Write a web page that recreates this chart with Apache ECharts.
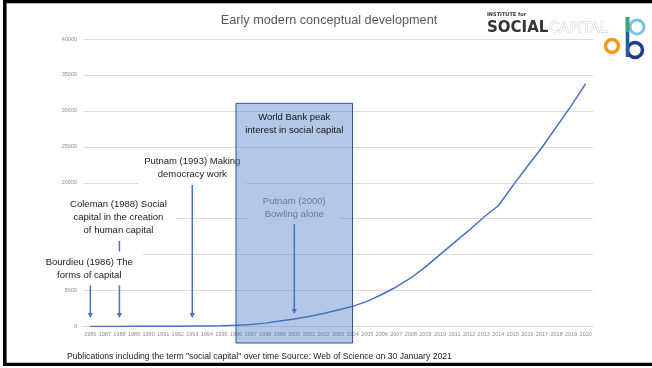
<!DOCTYPE html>
<html><head><meta charset="utf-8">
<script src="https://cdn.jsdelivr.net/npm/echarts@6/dist/echarts.min.js"></script>
<style>html,body{margin:0;padding:0;background:#fff}#c{width:652px;height:368px}</style>
</head><body><div id="c"></div>
<script>
const years = ['1986','1987','1988','1989','1990','1991','1992','1993','1994','1995','1996','1997','1998','1999','2000','2001','2002','2003','2004','2005','2006','2007','2008','2009','2010','2011','2012','2013','2014','2015','2016','2017','2018','2019','2020'];
const publications = [10,12,15,18,22,30,40,55,70,100,160,280,470,750,1050,1400,1800,2300,2800,3500,4450,5500,6750,8300,10000,11700,13400,15200,16800,19600,22300,24900,27800,30700,33800];
const titleText = 'Early modern conceptual development';
const captionText = 'Publications including the term "social capital" over time Source: Web of Science on 30 January 2021';
const notes = {
  bourdieu: 'Bourdieu (1986) The\nforms of capital',
  coleman: 'Coleman (1988) Social\ncapital in the creation\nof human capital',
  putnam93: 'Putnam (1993) Making\ndemocracy work',
  worldBank: 'World Bank peak\ninterest in social capital',
  putnam00: 'Putnam (2000)\nBowling alone'
};

const chart = echarts.init(document.getElementById('c'), null, {renderer: 'canvas'});
chart.setOption({
  animation: false,
  backgroundColor: '#fff',
  grid: {left: 83, right: 59, top: 39, bottom: 41.5},
  xAxis: {
    type: 'category', data: years, boundaryGap: true,
    axisLine: {lineStyle: {color: '#dcdcdc', width: 1}},
    axisTick: {show: false},
    axisLabel: {interval: 0, fontSize: 5.5, color: '#8c8c8c', margin: 5, fontFamily: 'Liberation Sans'}
  },
  yAxis: {
    type: 'value', min: 0, max: 40000, interval: 5000,
    axisLine: {show: false}, axisTick: {show: false},
    axisLabel: {fontSize: 5.5, color: '#8c8c8c', margin: 6, fontFamily: 'Liberation Sans', formatter: v => String(v)},
    splitLine: {lineStyle: {color: '#dcdcdc', width: 1}}
  },
  series: [{type: 'line', data: publications, symbol: 'none', lineStyle: {color: '#4472C4', width: 1.5}, z: 3}]
});

const P = (yr, v) => chart.convertToPixel({gridIndex: 0}, [yr, v]);
const FONT = 'Liberation Sans';
const g = [];

function arrow(yr, topV, tipV, z) {
  const x = P(yr, 0)[0];
  const yTop = P(yr, topV)[1];
  const yTip = P(yr, tipV)[1];
  g.push({type: 'line', z: z, shape: {x1: x, y1: yTop, x2: x, y2: yTip - 4}, style: {stroke: '#4472C4', lineWidth: 1.5}});
  g.push({type: 'polygon', z: z, shape: {points: [[x - 2.6, yTip - 5], [x + 2.6, yTip - 5], [x, yTip]]}, style: {fill: '#4472C4'}});
}
function note(x, y, text, color, z, bg, pad) {
  g.push({type: 'text', z: z, x: x, y: y, style: {
    text: text, fill: color, font: '9.5px ' + FONT, align: 'center', verticalAlign: 'middle',
    lineHeight: 13, backgroundColor: bg || null, padding: pad || 0
  }});
}

// arrows (under the white label boxes)
arrow('1986', 5900, 1200, 10);
arrow('1988', 12000, 1200, 10);
arrow('1993', 19800, 1200, 10);
arrow('2000', 14300, 1750, 10);

// labels with white backgrounds
const x86 = P('1986', 0)[0], x88 = P('1988', 0)[0], x93 = P('1993', 0)[0], x00 = P('2000', 0)[0];
note(x86 + 1, 268.5, notes.bourdieu, '#1a1a1a', 20, '#fff', [4, 10, 4, 6]);
note(x88 - 1, 217.5, notes.coleman, '#1a1a1a', 20, '#fff', [4, 9, 4, 9]);
note(x93, 168, notes.putnam93, '#1a1a1a', 20, '#fff', [4, 6, 4, 6]);
note(x00, 208.3, notes.putnam00, '#7f7f7f', 20, '#fff', [3, 14, 3, 14]);

// World Bank shaded box
const bx0 = P('1996', 0)[0], bx1 = P('2004', 0)[0];
const by0 = P('1996', 31050)[1], by1 = P('1996', 0)[1] + 16.5;
g.push({type: 'rect', z: 30, shape: {x: bx0, y: by0, width: bx1 - bx0, height: by1 - by0},
  style: {fill: 'rgba(68,114,196,0.4)', stroke: '#2F528F', lineWidth: 1}});
note((bx0 + bx1) / 2, 123.5, notes.worldBank, '#111', 40);

// title & caption
g.push({type: 'text', z: 40, x: 329, y: 20, style: {text: titleText, fill: '#595959', font: '12.7px ' + FONT, align: 'center', verticalAlign: 'middle'}});
g.push({type: 'text', z: 40, x: 67, y: 357, style: {text: captionText, fill: '#1a1a1a', font: '8.6px ' + FONT, align: 'left', verticalAlign: 'middle'}});

// logo
g.push({type: 'text', z: 40, x: 487, y: 15, style: {text: 'INSTITUTE for', fill: '#333', font: 'bold 5px DejaVu Sans', align: 'left', verticalAlign: 'middle'}});
g.push({type: 'text', z: 40, x: 487, y: 28, style: {text: 'SOCIAL', fill: '#333', font: 'bold 15px DejaVu Sans', align: 'left', verticalAlign: 'middle'}});
g.push({type: 'text', z: 40, x: 549, y: 28, style: {text: 'CAPITAL', fill: '#fff', stroke: '#c8c8c8', lineWidth: 0.8, font: '14.5px DejaVu Sans', align: 'left', verticalAlign: 'middle'}});
g.push({type: 'circle', z: 41, shape: {cx: 612, cy: 46, r: 6.5}, style: {fill: 'none', stroke: '#f39a1e', lineWidth: 3.5}});
g.push({type: 'circle', z: 41, shape: {cx: 637, cy: 27, r: 7}, style: {fill: 'none', stroke: '#7cc2e8', lineWidth: 3}});
g.push({type: 'circle', z: 41, shape: {cx: 635, cy: 50, r: 7.5}, style: {fill: 'none', stroke: '#1f3c88', lineWidth: 3.5}});
g.push({type: 'line', z: 41, shape: {x1: 627.5, y1: 17, x2: 627.5, y2: 57}, style: {stroke: '#1f5fa0', lineWidth: 3.5}});
g.push({type: 'line', z: 41, shape: {x1: 627.5, y1: 17, x2: 627.5, y2: 32}, style: {stroke: '#3aa76d', lineWidth: 3.5}});

// frame
g.push({type: 'rect', z: 50, shape: {x: 3, y: 0, width: 649, height: 3.3}, style: {fill: '#000'}});
g.push({type: 'rect', z: 50, shape: {x: 3, y: 0, width: 3.6, height: 366}, style: {fill: '#000'}});
g.push({type: 'rect', z: 50, shape: {x: 3, y: 362.7, width: 649, height: 3.3}, style: {fill: '#000'}});

chart.setOption({graphic: g});
</script>
</body></html>
